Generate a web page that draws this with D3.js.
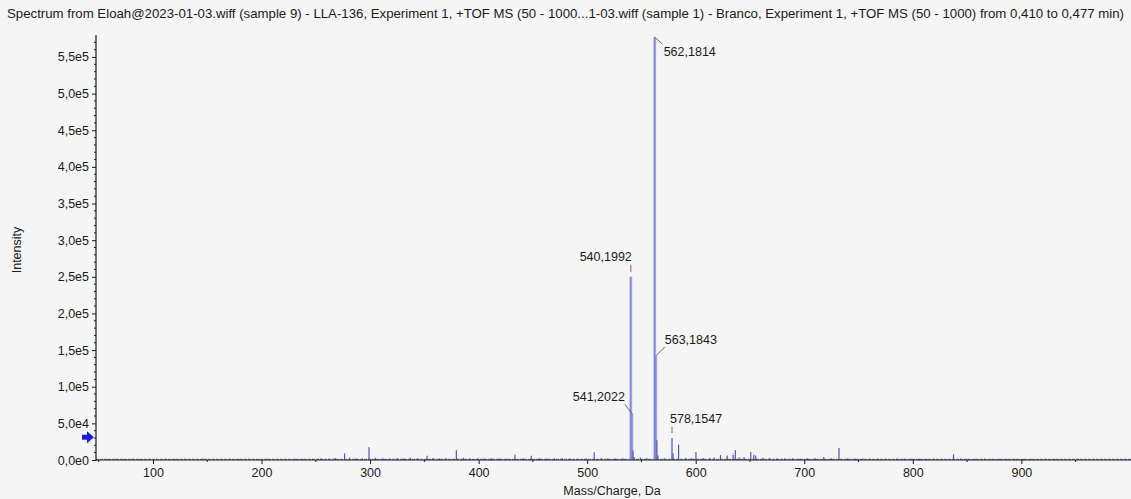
<!DOCTYPE html>
<html>
<head>
<meta charset="utf-8">
<script src="https://cdn.jsdelivr.net/npm/d3@7"></script>
<style>
  html, body { margin: 0; padding: 0; background: #f5f5f5; }
  svg { display: block; }
  text { font-family: "Liberation Sans", Arial, sans-serif; fill: #1a1a1a; }
</style>
</head>
<body>
<svg id="chart" width="1131" height="499"></svg>
<script>
// Spectrum peaks: m/z and intensity (counts)
const peakMz = [
  276.5, 299.0, 337.0, 352.5, 379.5, 433.5, 448.5, 506.5,
  540.1992, 541.2022, 542.20, 543.20,
  562.1814, 563.1843, 564.19, 565.19,
  578.1547, 579.16, 584.2, 600.2,
  622.8, 629.0, 634.5, 636.5, 644.5, 650.7, 653.5, 655.3,
  718.0, 732.0, 785.5, 837.5
];
const peakIntensity = [
  9000, 17300, 3000, 5900, 13200, 7200, 5900, 10500,
  250000, 63500, 13000, 4000,
  577000, 142000, 27000, 6000,
  30000, 9000, 21000, 11000,
  6800, 6000, 7000, 13600, 4000, 11000, 7000, 6000,
  4000, 16400, 2000, 8000
];

// Low-level background ions along the baseline
const noiseMz = [
  58, 66, 73, 81, 88, 97, 104, 112, 121, 129, 137, 146, 155, 163, 171, 180,
  188, 197, 205, 214, 222, 231, 239, 247, 255, 262, 268, 281, 287, 293, 305,
  312, 318, 325, 331, 344, 358, 364, 370, 386, 392, 399, 405, 412, 419, 426,
  441, 456, 463, 470, 477, 484, 491, 499, 513, 519, 526, 533, 549, 555, 571,
  591, 596, 607, 613, 617, 640, 662, 668, 675, 682, 689, 696, 703, 710, 725,
  740, 747, 754, 761, 768, 775, 792, 799, 806, 813, 820, 827, 844, 851, 858,
  866, 873, 880, 887, 894, 902, 909, 916, 923, 931, 938, 945, 952, 960, 967,
  974, 981, 988, 995
];
const noiseIntensity = [
  1200, 1600, 1100, 1800, 1300, 1500, 1200, 1700, 1300, 1500, 1100, 1900, 1400, 1200, 1600, 1300,
  1500, 1200, 1800, 1400, 1300, 1700, 1200, 1600, 2200, 1800, 2600, 3200, 2400, 2100, 2800,
  2300, 2000, 2600, 2200, 2400, 2700, 2100, 2500, 3000, 2300, 2000, 2200, 2600, 2100, 1900,
  2400, 2300, 2000, 2200, 2600, 2100, 1800, 2300, 2500, 2200, 2000, 2400, 3500, 2800, 2600,
  3000, 2400, 2700, 2900, 3400, 3800, 3100, 2600, 2300, 2100, 2400, 2000, 2200, 2600, 2400,
  2300, 1900, 2100, 1800, 2000, 1700, 1900, 1600, 1800, 1500, 1700, 1400, 1900, 1600, 1500,
  1700, 1400, 1600, 1300, 1500, 1400, 1600, 1300, 1500, 1200, 1400, 1300, 1500, 1200, 1400,
  1300, 1200, 1400, 1300
];

// Annotated peaks
const labelMz = [562.1814, 540.1992, 563.1843, 541.2022, 578.1547];
const labelIntensity = [577000, 250000, 142000, 63500, 30000];
const labelText = ["562,1814", "540,1992", "563,1843", "541,2022", "578,1547"];

// Axis ticks
const yTicks = [0, 50000, 100000, 150000, 200000, 250000, 300000, 350000, 400000, 450000, 500000, 550000];
const yTickLabels = ["0,0e0", "5,0e4", "1,0e5", "1,5e5", "2,0e5", "2,5e5", "3,0e5", "3,5e5", "4,0e5", "4,5e5", "5,0e5", "5,5e5"];
const xTicks = [100, 200, 300, 400, 500, 600, 700, 800, 900];

// Intensity threshold marker
const thresholdLevel = 31000;

const titleText = "Spectrum from Eloah@2023-01-03.wiff (sample 9) - LLA-136, Experiment 1, +TOF MS (50 - 1000...1-03.wiff (sample 1) - Branco, Experiment 1, +TOF MS (50 - 1000) from 0,410 to 0,477 min)";
const xTitle = "Mass/Charge, Da";
const yTitle = "Intensity";

const svg = d3.select("#chart");
const plotLeft = 96, plotRight = 1131, plotTop = 35, plotBottom = 460;
const fontSize = 12.5;

const x = d3.scaleLinear().domain([47.5, 1001]).range([plotLeft, plotRight]);
const y = d3.scaleLinear().domain([0, 580000]).range([plotBottom, plotTop]);

svg.append("rect").attr("width", 1131).attr("height", 499).attr("fill", "#f5f5f5");

// Title
svg.append("text")
  .attr("x", 7).attr("y", 18)
  .attr("font-size", 13)
  .attr("textLength", 1117).attr("lengthAdjust", "spacingAndGlyphs")
  .text(titleText);

// Noise floor
const noise = d3.range(noiseMz.length).map(i => ({ mz: noiseMz[i], v: noiseIntensity[i] }));
svg.append("g").selectAll("line").data(noise).join("line")
  .attr("x1", d => x(d.mz)).attr("x2", d => x(d.mz))
  .attr("y1", y(0)).attr("y2", d => y(d.v))
  .attr("stroke", "#4848a8").attr("stroke-width", 1);

svg.append("line")
  .attr("x1", plotLeft).attr("x2", plotRight)
  .attr("y1", y(900)).attr("y2", y(900))
  .attr("stroke", "#6464b8").attr("stroke-width", 1).attr("stroke-dasharray", "3,1");

// Peaks
const peaks = d3.range(peakMz.length).map(i => ({ mz: peakMz[i], v: peakIntensity[i] }));
const pg = svg.append("g");
pg.selectAll("line.halo").data(peaks.filter(d => d.v > 50000)).join("line")
  .attr("class", "halo")
  .attr("x1", d => x(d.mz)).attr("x2", d => x(d.mz))
  .attr("y1", y(0)).attr("y2", d => y(d.v))
  .attr("stroke", "#bcbcee").attr("stroke-width", 3);
pg.selectAll("line.peak").data(peaks).join("line")
  .attr("class", "peak")
  .attr("x1", d => x(d.mz)).attr("x2", d => x(d.mz))
  .attr("y1", y(0)).attr("y2", d => y(d.v))
  .attr("stroke", d => d.v > 50000 ? "#8080da" : "#5656b6")
  .attr("stroke-width", d => d.v > 50000 ? 1.3 : 1.2);

// Axes
const axisColor = "#1a1a1a";
const yAxis = d3.axisLeft(y).tickValues(yTicks).tickFormat((d, i) => yTickLabels[i]).tickSize(4).tickPadding(3);
const yg = svg.append("g").attr("transform", `translate(${plotLeft},0)`).call(yAxis);
yg.select(".domain").remove();
yg.selectAll("line").attr("stroke", axisColor);
yg.selectAll("text").attr("font-size", fontSize).attr("font-family", "Liberation Sans, Arial, sans-serif").attr("fill", "#1a1a1a");

// Minor y ticks
const yMinor = d3.range(0, 580000, 10000).filter(v => v % 50000 !== 0);
svg.append("g").selectAll("line").data(yMinor).join("line")
  .attr("x1", plotLeft - 2).attr("x2", plotLeft)
  .attr("y1", d => y(d)).attr("y2", d => y(d))
  .attr("stroke", axisColor);

svg.append("line")
  .attr("x1", plotLeft).attr("x2", plotLeft).attr("y1", plotTop).attr("y2", plotBottom + 1)
  .attr("stroke", axisColor).attr("stroke-width", 1.2);

const xAxis = d3.axisBottom(x).tickValues(xTicks).tickSize(4).tickPadding(4);
const xg = svg.append("g").attr("transform", `translate(0,${plotBottom})`).call(xAxis);
xg.select(".domain").remove();
xg.selectAll("line").attr("stroke", axisColor);
xg.selectAll("text").attr("font-size", fontSize).attr("font-family", "Liberation Sans, Arial, sans-serif").attr("fill", "#1a1a1a");

// Minor x ticks
const xMinor = d3.range(50, 1001, 50).filter(v => v % 100 !== 0);
svg.append("g").selectAll("line").data(xMinor).join("line")
  .attr("x1", d => x(d)).attr("x2", d => x(d))
  .attr("y1", plotBottom).attr("y2", plotBottom + 2)
  .attr("stroke", axisColor);

svg.append("line")
  .attr("x1", plotLeft).attr("x2", plotRight).attr("y1", plotBottom).attr("y2", plotBottom)
  .attr("stroke", axisColor).attr("stroke-width", 1.2);

// Axis titles
svg.append("text")
  .attr("x", 612).attr("y", 495)
  .attr("text-anchor", "middle").attr("font-size", fontSize)
  .text(xTitle);
svg.append("text")
  .attr("transform", "translate(21,250) rotate(-90)")
  .attr("text-anchor", "middle").attr("font-size", fontSize)
  .text(yTitle);

// Threshold arrow
const ay = y(thresholdLevel);
svg.append("path")
  .attr("d", `M82,${ay - 2.5} L87,${ay - 2.5} L87,${ay - 6} L94,${ay} L87,${ay + 6} L87,${ay + 2.5} L82,${ay + 2.5} Z`)
  .attr("fill", "#1c1cd4");

// Peak annotations: label placement relative to the peak apex
const placement = {
  "562,1814": { dx: 9, dy: 19, anchor: "start", leader: [[0, 0], [8, 7]] },
  "540,1992": { dx: 1, dy: -16, anchor: "end", leader: [[0, -5], [0, -12]] },
  "563,1843": { dx: 9, dy: -12, anchor: "start", leader: [[0, 0], [9, -9]] },
  "541,2022": { dx: -7, dy: -12, anchor: "end", leader: [[0, 0], [-7, -9]] },
  "578,1547": { dx: -2, dy: -15, anchor: "start", leader: [[0, -5], [0, -11]] }
};
const ann = svg.append("g");
labelText.forEach((t, i) => {
  const px = x(labelMz[i]), py = y(labelIntensity[i]);
  const p = placement[t];
  ann.append("line")
    .attr("x1", px + p.leader[0][0]).attr("y1", py + p.leader[0][1])
    .attr("x2", px + p.leader[1][0]).attr("y2", py + p.leader[1][1])
    .attr("stroke", "#444").attr("stroke-width", 0.8);
  ann.append("text")
    .attr("x", px + p.dx).attr("y", py + p.dy)
    .attr("text-anchor", p.anchor).attr("font-size", fontSize)
    .text(t);
});
</script>
</body>
</html>
